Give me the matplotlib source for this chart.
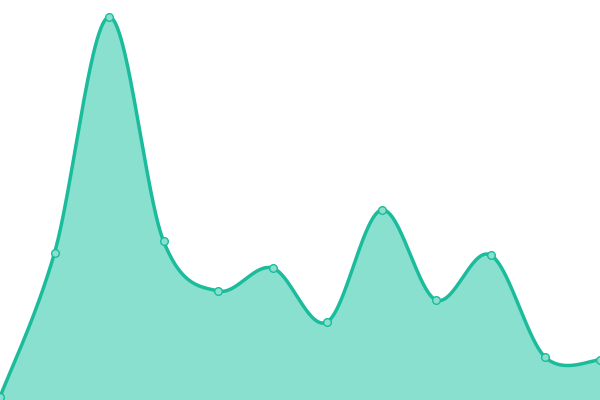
import numpy as np
import matplotlib
matplotlib.use("Agg")
import matplotlib.pyplot as plt

# values (0 at bottom edge, 400 at top)
x_vals = [0, 54.5, 109, 163.5, 218, 272.5, 327, 381.5, 436, 490.5, 545, 600]
y_vals = [3, 147, 383, 159, 109, 132, 78, 190, 100, 145, 43, 40]

LINE = "#1abc9c"
FILL = "#8ae0cf"


def catmull_rom(xs, ys, n=60):
    pts = np.column_stack([xs, ys]).astype(float)
    ext = np.vstack([pts[0], pts, pts[-1]])
    out = []
    for i in range(1, len(ext) - 2):
        p0, p1, p2, p3 = ext[i - 1], ext[i], ext[i + 1], ext[i + 2]
        c1 = p1 + (p2 - p0) / 6
        c2 = p2 - (p3 - p1) / 6
        t = np.linspace(0, 1, n)[:, None]
        seg = ((1 - t) ** 3 * p1 + 3 * (1 - t) ** 2 * t * c1
               + 3 * (1 - t) * t ** 2 * c2 + t ** 3 * p2)
        out.append(seg if i == 1 else seg[1:])
    curve = np.vstack(out)
    return curve[:, 0], curve[:, 1]


cx, cy = catmull_rom(x_vals, y_vals)

fig = plt.figure(figsize=(6, 4), dpi=100)
ax = fig.add_axes([0, 0, 1, 1])
ax.fill_between(cx, 0, cy, color=FILL, linewidth=0)
ax.plot(cx, cy, color=LINE, linewidth=2.5, solid_capstyle="round")
ax.plot(x_vals, y_vals, "o", markersize=5.5, markerfacecolor=FILL,
        markeredgecolor=LINE, markeredgewidth=1)
ax.set_xlim(0, 600)
ax.set_ylim(0, 400)
ax.axis("off")
fig.savefig("out.png", dpi=100)
